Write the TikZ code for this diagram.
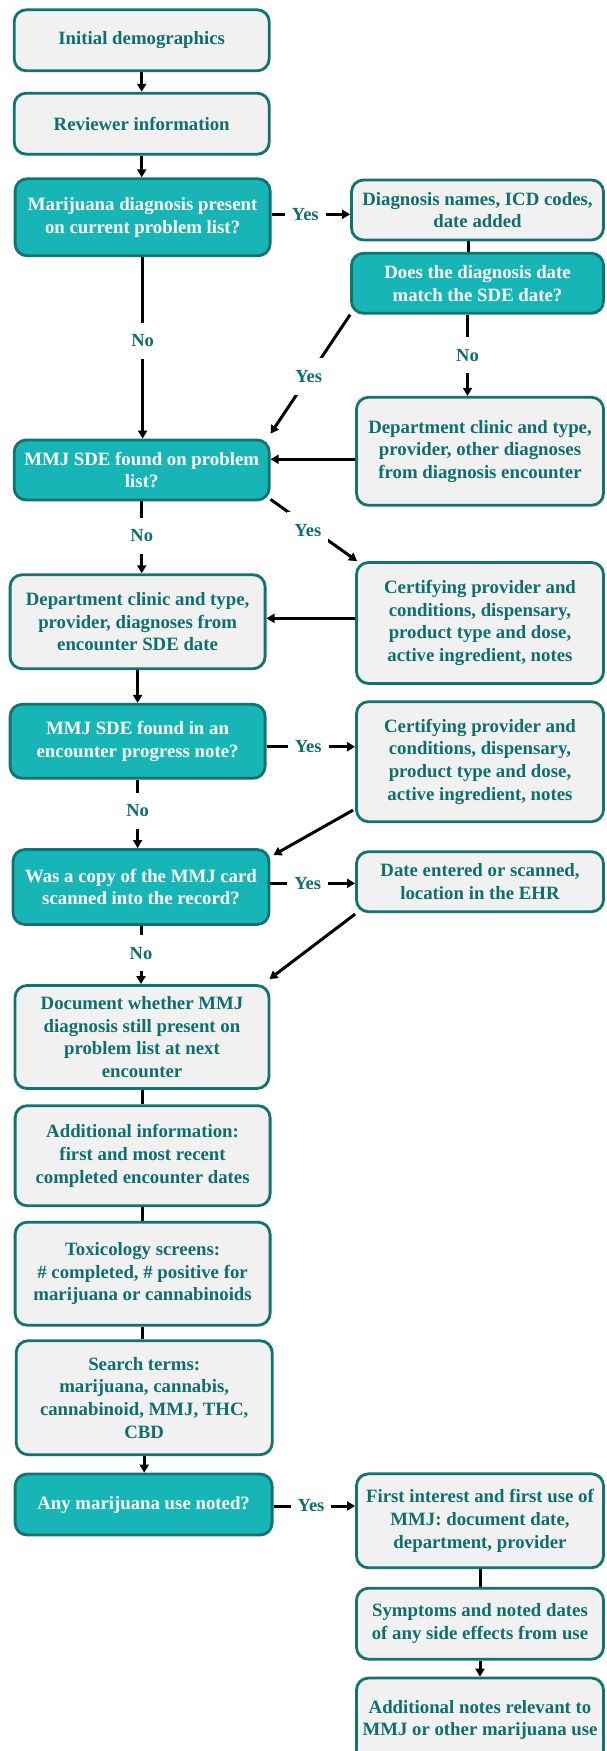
\documentclass[tikz,border=0pt]{standalone}
\usepackage{fontspec}
\setmainfont{Liberation Serif}
\usetikzlibrary{arrows.meta}
\definecolor{tealfill}{HTML}{17B5B5}
\definecolor{bordercol}{HTML}{137272}
\definecolor{textcol}{HTML}{0F6E6E}
\definecolor{greyfill}{HTML}{F1F1F1}
\tikzset{
  box/.style={draw=bordercol, line width=2.8pt, rounded corners=12pt, fill=greyfill,
    text=textcol, font=\bfseries\fontsize{18.8}{22.7}\selectfont, align=center, inner sep=0pt},
  qbox/.style={box, fill=tealfill, text=white},
  arr/.style={line width=3pt, -{Triangle[length=8pt,width=9pt]}},
  ln/.style={line width=3pt},
  lab/.style={fill=white, text=textcol, font=\bfseries\fontsize{18.5}{22}\selectfont,
    inner xsep=7pt, inner ysep=12pt}
}
\begin{document}
\begin{tikzpicture}[x=1pt,y=-1pt]
\useasboundingbox (0,0) rectangle (606,1751);
\clip (0,0) rectangle (606,1751);
% left column
\node[box, minimum width=255pt, minimum height=61pt] (init) at (141.7,40.3) {Initial demographics};
\node[box, minimum width=255pt, minimum height=61pt] (rev) at (141.7,123.7) {Reviewer information};
\node[qbox, minimum width=255pt, minimum height=77pt] (q1) at (142.6,217.3) {Marijuana diagnosis present\\on current problem list?};
\node[qbox, minimum width=255pt, minimum height=60pt] (q3) at (141.7,470) {MMJ SDE found on problem\\list?};
\node[box, minimum width=255pt, minimum height=94pt] (dept2) at (137.6,621.7) {Department clinic and type,\\provider, diagnoses from\\encounter SDE date};
\node[qbox, minimum width=255pt, minimum height=74pt] (q4) at (137.6,741.3) {MMJ SDE found in an\\encounter progress note?};
\node[qbox, minimum width=256pt, minimum height=75pt] (q5) at (141,887) {Was a copy of the MMJ card\\scanned into the record?};
\node[box, minimum width=254pt, minimum height=103pt] (doc) at (142,1037) {Document whether MMJ\\diagnosis still present on\\problem list at next\\encounter};
\node[box, minimum width=255pt, minimum height=100pt] (addl) at (142.6,1155.7) {Additional information:\\first and most recent\\completed encounter dates};
\node[box, minimum width=255pt, minimum height=103pt] (tox) at (142.6,1273.7) {Toxicology screens:\\\# completed, \# positive for\\marijuana or cannabinoids};
\node[box, minimum width=256pt, minimum height=114pt] (search) at (144.2,1397.7) {Search terms:\\marijuana, cannabis,\\cannabinoid, MMJ, THC,\\CBD};
\node[qbox, minimum width=257pt, minimum height=61pt] (q6) at (143.6,1504.5) {Any marijuana use noted?};
% right column
\node[box, minimum width=252pt, minimum height=60pt] (dx) at (477.5,210) {Diagnosis names, ICD codes,\\date added};
\node[qbox, minimum width=252pt, minimum height=60pt] (q2) at (477.5,283.3) {Does the diagnosis date\\match the SDE date?};
\node[box, minimum width=247pt, minimum height=108pt] (dept1) at (480,451.3) {Department clinic and type,\\provider, other diagnoses\\from diagnosis encounter};
\node[box, minimum width=247pt, minimum height=121pt] (cert1) at (480,623) {Certifying provider and\\conditions, dispensary,\\product type and dose,\\active ingredient, notes};
\node[box, minimum width=247pt, minimum height=120pt] (cert2) at (480,761.7) {Certifying provider and\\conditions, dispensary,\\product type and dose,\\active ingredient, notes};
\node[box, minimum width=247pt, minimum height=60pt] (date) at (480,881.7) {Date entered or scanned,\\location in the EHR};
\node[box, minimum width=247pt, minimum height=94pt] (first) at (480,1520.8) {First interest and first use of\\MMJ: document date,\\department, provider};
\node[box, minimum width=247pt, minimum height=71pt] (symp) at (480,1623.7) {Symptoms and noted dates\\of any side effects from use};
\node[box, minimum width=247pt, minimum height=84pt] (notes) at (480,1720) {Additional notes relevant to\\MMJ or other marijuana use};
% connectors
\draw[arr] (init.south) -- (init.south |- rev.north);
\draw[arr] (rev.south) -- (rev.south |- q1.north);
\draw[arr] ([yshift=3pt]q1.east) -- ([yshift=3pt]q1.east -| dx.west) node[lab,pos=0.43]{Yes};
\draw[ln] ([xshift=-9pt]dx.south) -- ([xshift=-9pt]dx.south |- q2.north);
\draw[arr] (q1.south) -- (q1.south |- q3.north) node[lab,pos=0.46]{No};
\draw[arr] (q2.south west) -- ([yshift=5pt]q3.north east) node[lab,pos=0.52]{Yes};
\draw[arr] ([xshift=-10pt]q2.south) -- ([xshift=-10pt]q2.south |- dept1.north) node[lab,pos=0.5]{No};
\draw[arr] ([yshift=-8pt]dept1.west) -- ([yshift=-8pt]dept1.west -| q3.east);
\draw[arr] (q3.south) -- (q3.south |- dept2.north) node[lab,pos=0.48]{No};
\draw[arr] ([yshift=2pt]q3.south east) -- ([xshift=2pt]cert1.north west) node[lab,pos=0.5,xshift=-6pt]{Yes};
\draw[arr] ([yshift=4.7pt]cert1.west) -- ([yshift=4.7pt]cert1.west -| dept2.east);
\draw[arr] (dept2.south) -- (dept2.south |- q4.north);
\draw[arr] ([yshift=-5.4pt]q4.east) -- ([yshift=-5.4pt]q4.east -| cert2.west) node[lab,pos=0.47]{Yes};
\draw[arr] (q4.south) -- (q4.south |- q5.north) node[lab,pos=0.455]{No};
\draw[arr] ([xshift=-2pt,yshift=13pt]cert2.south west) -- ([xshift=3pt,yshift=-7pt]q5.north east);
\draw[arr] ([yshift=3.7pt]q5.east) -- ([yshift=3.7pt]q5.east -| date.west) node[lab,pos=0.44]{Yes};
\draw[arr] (q5.south) -- (q5.south |- doc.north) node[lab,pos=0.47]{No};
\draw[arr] ([yshift=-1pt]date.south west) -- ([xshift=-1pt,yshift=5pt]doc.north east);
\draw[ln] (doc.south) -- (doc.south |- addl.north);
\draw[ln] (addl.south) -- (addl.south |- tox.north);
\draw[ln] (tox.south) -- (tox.south |- search.north);
\draw[arr] (search.south) -- (search.south |- q6.north);
\draw[arr] ([yshift=-1.5pt]q6.east) -- ([yshift=-1.5pt]q6.east -| first.west) node[lab,pos=0.46]{Yes};
\draw[ln] (first.south) -- (first.south |- symp.north);
\draw[arr] (symp.south) -- (symp.south |- notes.north);
\end{tikzpicture}
\end{document}
